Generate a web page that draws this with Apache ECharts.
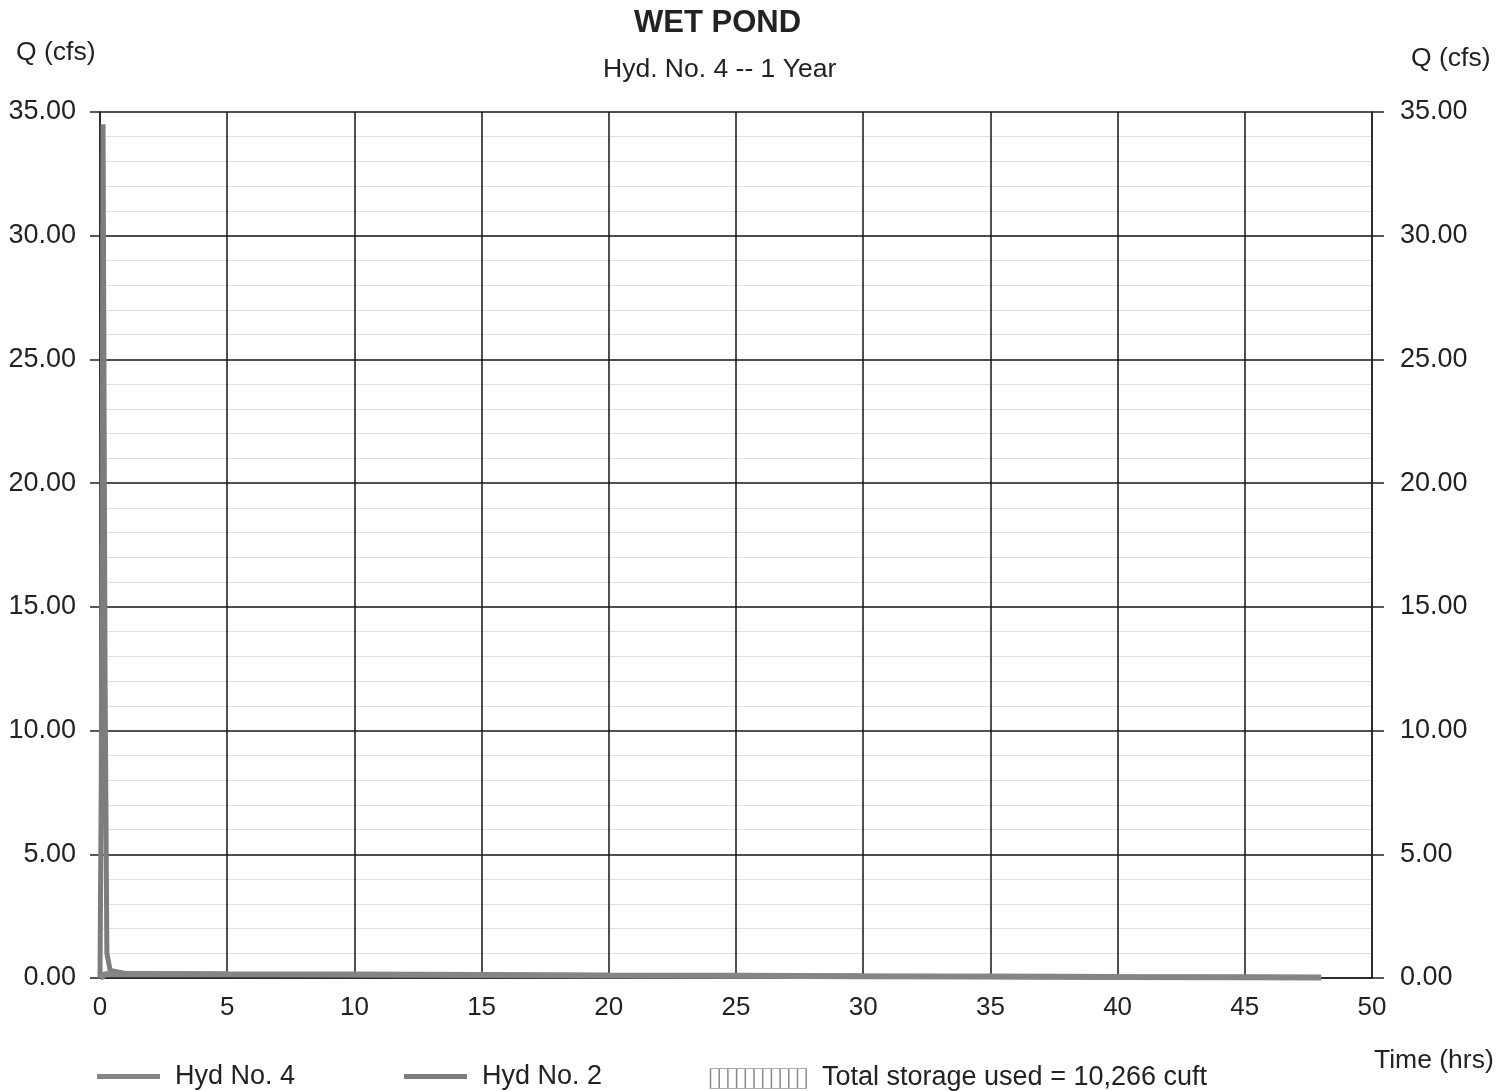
<!DOCTYPE html>
<html><head><meta charset="utf-8">
<script src="https://cdn.jsdelivr.net/npm/echarts@6/dist/echarts.min.js"></script>
<style>html,body{margin:0;padding:0;background:#fff}#c{width:1507px;height:1091px}</style>
</head><body><div id="c"></div>
<script>
// Data
const titleText = 'WET POND';
const subtitleText = 'Hyd. No. 4 -- 1 Year';
const xTicks = [0,5,10,15,20,25,30,35,40,45,50];
const yTicks = [0,5,10,15,20,25,30,35];
// Hyd No. 2 (inflow)
const inflowTime = [0, 0.05, 0.12, 0.2, 0.27, 0.4, 1, 5, 10, 20, 30, 40, 48];
const inflowQ    = [0, 8.0, 34.5, 12.0, 1.0, 0.3, 0.18, 0.15, 0.13, 0.1, 0.07, 0.04, 0.02];
// Hyd No. 4 (outflow)
const outflowTime = [0, 0.2, 1, 5, 10, 15, 20, 25, 30, 35, 40, 45, 48];
const outflowQ    = [0, 0.15, 0.16, 0.15, 0.14, 0.12, 0.1, 0.09, 0.07, 0.06, 0.04, 0.03, 0.02];
const storageLabel = 'Total storage used = 10,266 cuft';

const pairs = (t, q) => t.map((v, i) => [v, q[i]]);
const FONT = '"Liberation Sans", Arial, sans-serif';
const TXT = '#222';
const GRAY = '#7d7d7d';

const chart = echarts.init(document.getElementById('c'), null, {renderer: 'canvas'});
const yAxisCommon = {
  type: 'value', min: 0, max: 35, interval: 5,
  axisLine: {show: true, lineStyle: {color: '#222', width: 1.5}},
  axisTick: {show: true, length: 10, lineStyle: {color: '#222', width: 1.5}},
  axisLabel: {fontFamily: FONT, fontSize: 27, color: TXT, formatter: v => v.toFixed(2)},
  minorTick: {show: false, splitNumber: 5},
};
chart.setOption({
  animation: false,
  backgroundColor: '#fff',
  title: [
    {text: titleText, left: 629, top: 3, textStyle: {fontFamily: FONT, fontSize: 31, fontWeight: 'bold', color: TXT}},
    {text: subtitleText, left: 598, top: 51, textStyle: {fontFamily: FONT, fontSize: 26.5, fontWeight: 'normal', color: TXT}},
    {text: 'Q (cfs)', left: 11, top: 34, textStyle: {fontFamily: FONT, fontSize: 26.5, fontWeight: 'normal', color: TXT}},
    {text: 'Q (cfs)', left: 1406, top: 40, textStyle: {fontFamily: FONT, fontSize: 26.5, fontWeight: 'normal', color: TXT}},
    {text: 'Time (hrs)', left: 1369, top: 1042, textStyle: {fontFamily: FONT, fontSize: 26.5, fontWeight: 'normal', color: TXT}}
  ],
  grid: {left: 100, right: 135, top: 112, bottom: 113, containLabel: false},
  xAxis: {
    type: 'value', min: 0, max: 50, interval: 5,
    axisLine: {show: true, lineStyle: {color: '#222', width: 1.5}},
    axisTick: {show: false},
    axisLabel: {fontFamily: FONT, fontSize: 26, color: TXT, margin: 17},
    splitLine: {show: true, lineStyle: {color: '#151515', width: 1.5}}
  },
  yAxis: [
    Object.assign({}, yAxisCommon, {
      position: 'left',
      axisLabel: Object.assign({}, yAxisCommon.axisLabel, {margin: 24}),
      splitLine: {show: true, lineStyle: {color: '#151515', width: 1.5}},
      minorTick: {show: false, splitNumber: 5},
      minorSplitLine: {show: true, lineStyle: {color: '#e0e0e0', width: 1}}
    }),
    Object.assign({}, yAxisCommon, {
      position: 'right',
      axisTick: {show: true, length: 12, lineStyle: {color: '#222', width: 1.5}},
      axisLabel: Object.assign({}, yAxisCommon.axisLabel, {margin: 28}),
      splitLine: {show: false}
    })
  ],
  legend: {
    left: 97, top: 1063, padding: 0, itemWidth: 63, itemHeight: 5, itemGap: 109,
    icon: 'rect',
    textStyle: {fontFamily: FONT, fontSize: 27, color: TXT, padding: [0, 0, 0, 10]},
    data: ['Hyd No. 4', 'Hyd No. 2']
  },
  series: [
    {name: 'Hyd No. 2', type: 'line', yAxisIndex: 0, data: pairs(inflowTime, inflowQ),
     showSymbol: false, symbol: 'none', lineStyle: {color: GRAY, width: 5}, itemStyle: {color: GRAY}, z: 3},
    {name: 'Hyd No. 4', type: 'line', yAxisIndex: 0, data: pairs(outflowTime, outflowQ),
     showSymbol: false, symbol: 'none', lineStyle: {color: '#858585', width: 6}, itemStyle: {color: '#858585'}, z: 4}
  ],
  graphic: [
    {type: 'group', left: 708, top: 1066, children: (function(){
      const ch = [];
      for (let i = 0; i <= 11; i++) ch.push({type: 'line', shape: {x1: i*8.7, y1: 0, x2: i*8.7, y2: 20}, style: {stroke: '#888', lineWidth: 1.5}});
      ch.push({type: 'line', shape: {x1: 0, y1: 0, x2: 96, y2: 0}, style: {stroke: '#aaa', lineWidth: 1}});
      ch.push({type: 'line', shape: {x1: 0, y1: 20, x2: 96, y2: 20}, style: {stroke: '#aaa', lineWidth: 1}});
      return ch;
    })()},
    {type: 'text', left: 822, top: 1064, style: {text: storageLabel, fontFamily: FONT, fontSize: 27, fill: TXT}}
  ]
});
</script></body></html>
